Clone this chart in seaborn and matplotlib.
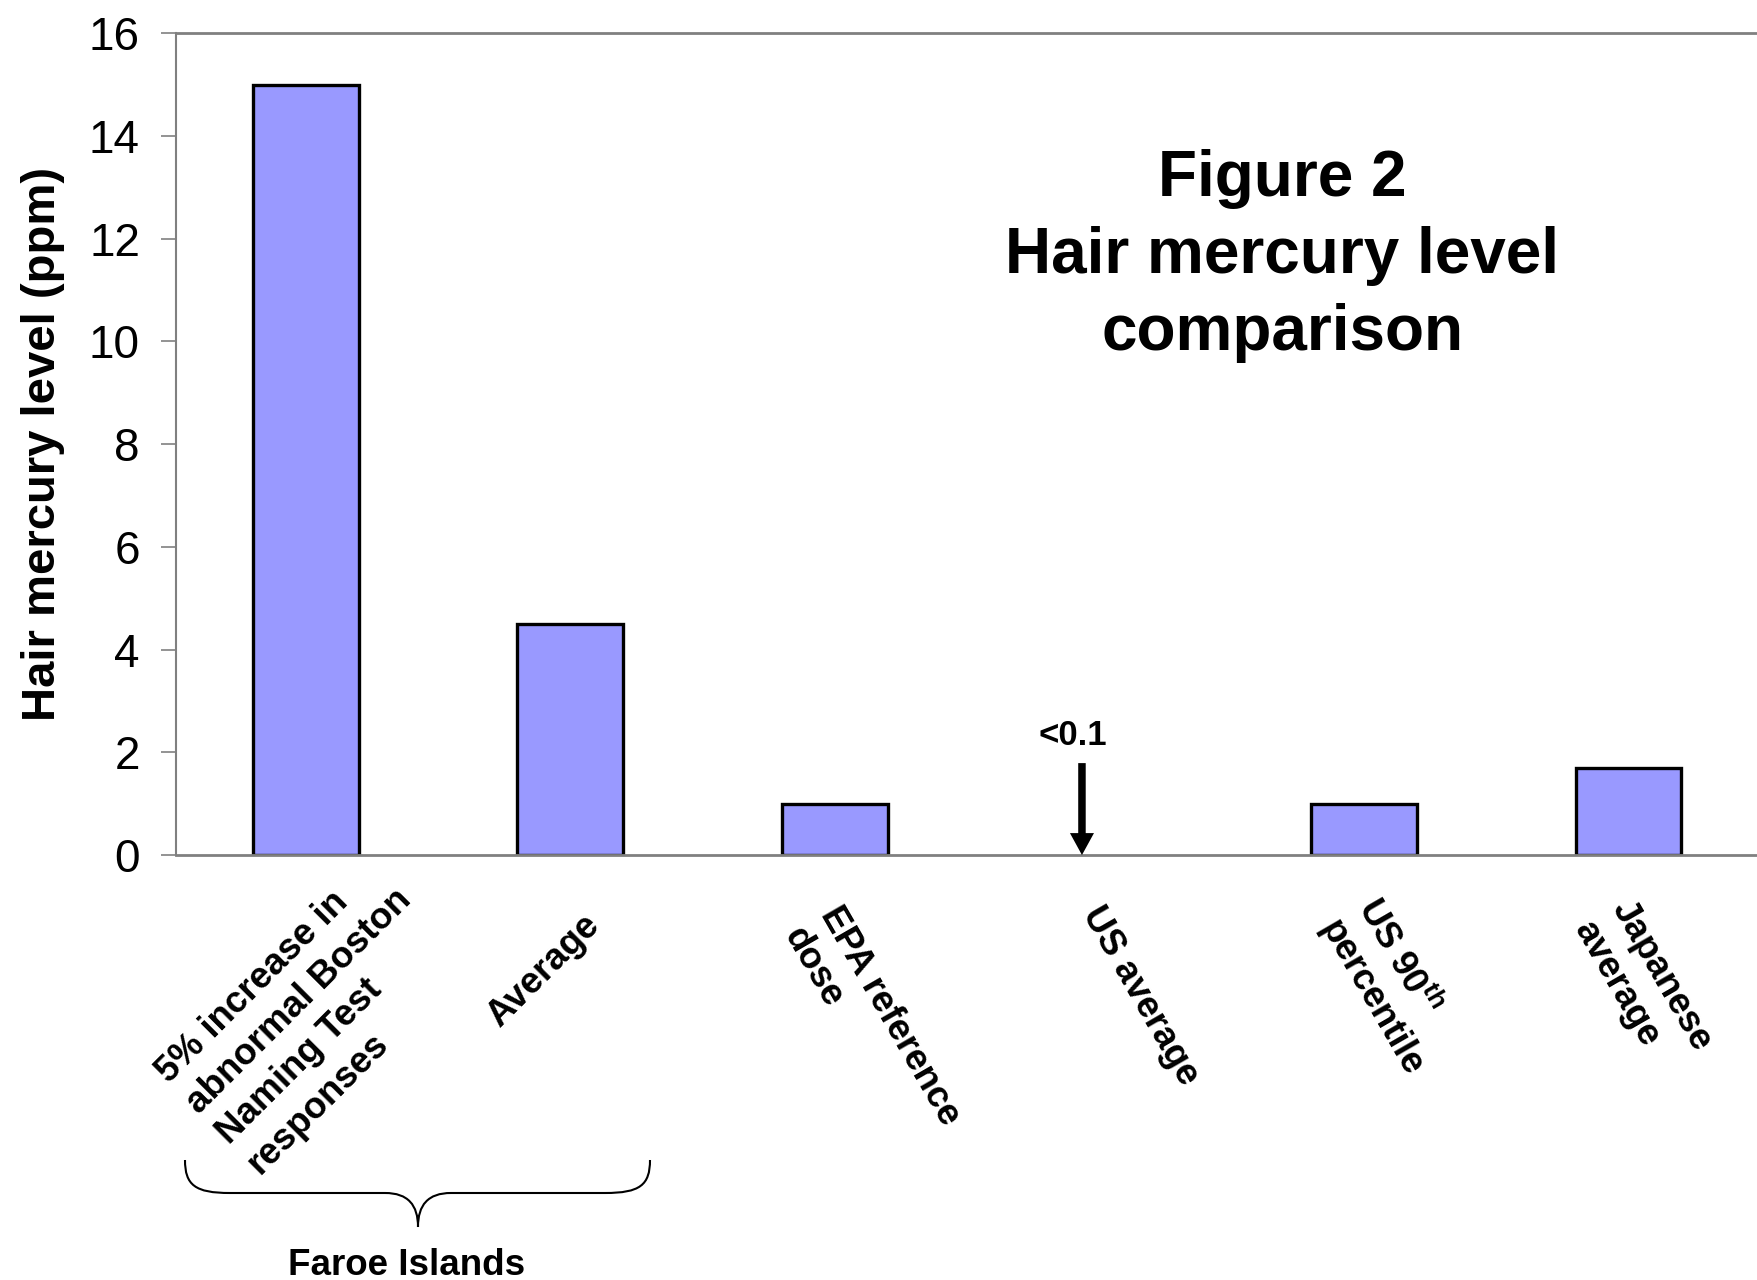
import numpy as np
import matplotlib.pyplot as plt
import seaborn as sns
from matplotlib.path import Path
from matplotlib.patches import PathPatch

# data
categories = ["Faroe BNT", "Faroe average", "EPA RfD", "US average", "US 90th", "Japanese average"]
hair_hg_ppm = [15.0, 4.5, 1.0, np.nan, 1.0, 1.7]  # US average is <0.1, shown by an arrow only
tick_labels = [
    "5% increase in\nabnormal Boston\nNaming Test\nresponses",
    "Average",
    "EPA reference\ndose",
    "US average",
    "US 90$^{\\rm th}$\npercentile",
    "Japanese\naverage",
]
tick_rotation = [45, 45, -60, -60, -60, -60]
us_avg_note = "<0.1"
group_label = "Faroe Islands"
title = "Figure 2\nHair mercury level\ncomparison"

sns.set_style("white")
plt.rcParams["font.family"] = ["Liberation Sans", "DejaVu Sans"]
plt.rcParams["mathtext.fontset"] = "custom"
plt.rcParams["mathtext.rm"] = "Liberation Sans:bold"
plt.rcParams["mathtext.bf"] = "Liberation Sans:bold"
plt.rcParams["mathtext.it"] = "Liberation Sans:bold"
plt.rcParams["text.color"] = "black"
plt.rcParams["axes.labelcolor"] = "black"
plt.rcParams["ytick.labelcolor"] = "black"

W, H = 1757, 1280
fig = plt.figure(figsize=(W / 100, H / 100), dpi=100)
ax = fig.add_axes([0.1002, 0.332, 0.902, 0.642])

sns.barplot(x=categories, y=hair_hg_ppm, order=categories, color="#9999FF", saturation=1,
            edgecolor="black", linewidth=2.4, width=0.4, ax=ax)

ax.set_xlim(-0.49, 5.5)
ax.set_ylim(0, 16)
ax.set_yticks(np.arange(0, 17, 2))
ax.tick_params(axis="y", labelsize=33, length=11, width=1.2, color="#808080", pad=15, left=True)
ax.tick_params(axis="x", bottom=False, labelbottom=False)
ax.set_xlabel("")
for side in ["top", "bottom", "left"]:
    ax.spines[side].set_color("#808080")
ax.spines["top"].set_linewidth(2)
ax.spines["bottom"].set_linewidth(2)
ax.spines["left"].set_linewidth(1.5)
ax.spines["right"].set_visible(False)

ax.set_ylabel("Hair mercury level (ppm)", fontsize=34, fontweight="bold")
ax.yaxis.set_label_coords(-0.07, 0.5)

# category labels, rotated like the original (anchored at the top-left of the first line)
label_offsets = [(-156, -210), (-90, -154), (9, -45), (6, -45), (18, -37), (6, -39)]
for i, (txt, rot, off) in enumerate(zip(tick_labels, tick_rotation, label_offsets)):
    ax.annotate(txt, xy=(i, 0), xycoords=("data", "axes fraction"), xytext=off,
                textcoords="offset pixels", rotation=rot, rotation_mode="anchor",
                ha="left", va="top", multialignment="left", fontsize=26.5,
                fontweight="bold", linespacing=1.3, annotation_clip=False)

# arrow for the US average (<0.1)
us_i = categories.index("US average")
ax.annotate("", xy=(us_i - 0.066, 0), xytext=(us_i - 0.066, 1.79),
            arrowprops=dict(arrowstyle="simple,head_length=1.58,head_width=1.73,tail_width=0.54",
                            mutation_scale=10, fc="black", ec="none", shrinkA=0, shrinkB=0))
ax.text(us_i - 0.1, 2.14, us_avg_note, ha="center", va="baseline", fontsize=25,
        fontweight="bold")

# brace under the two Faroe Islands bars
def fig_xy(px, py):
    return px / W, 1 - py / H

brace_px = [(185, 1160), (185, 1185), (195, 1193), (230, 1193), (385, 1193),
            (408, 1193), (418, 1205), (418, 1227), (418, 1205), (428, 1193), (451, 1193),
            (605, 1193), (640, 1193), (650, 1185), (650, 1160)]
codes = [Path.MOVETO] + [Path.CURVE4] * 3 + [Path.LINETO] + [Path.CURVE4] * 6 + \
        [Path.LINETO] + [Path.CURVE4] * 3
brace = PathPatch(Path([fig_xy(*p) for p in brace_px], codes), transform=fig.transFigure,
                  fill=False, lw=1.5, color="black")
fig.patches.append(brace)
fig.text(0.2316, 0.0039, group_label, ha="center", va="baseline", fontsize=26.5,
         fontweight="bold")

fig.text(0.7297, 0.8002, title, ha="center", va="center", fontsize=46, fontweight="bold",
         linespacing=1.36)

fig.savefig("out.png", dpi=100)
